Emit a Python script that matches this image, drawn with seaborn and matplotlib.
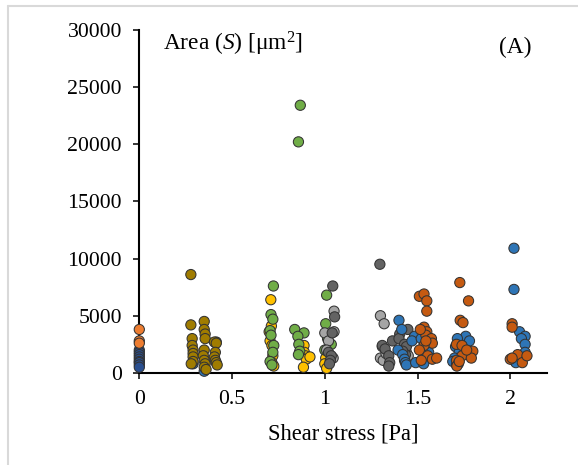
import numpy as np
import pandas as pd
import seaborn as sns
import matplotlib.pyplot as plt
from matplotlib.lines import Line2D

# Values (shear stress in Pa, area in um^2).
# Each series is one marker colour; they are drawn in this order (later on top).
navy_x = [0.0, 0.0, 0.0, 0.0, 0.0, 0.0, 0.0, 0.0, 0.0]
navy_y = [2000, 1800, 1600, 1400, 1200, 1000, 900, 700, 500]

orange_x = [0.0, 0.0, 0.0]
orange_y = [3800, 2800, 2600]

blue_low_x = [0.29, 0.35, 0.415]
blue_low_y = [800, 150, 2700]

olive_x = [0.278, 0.278, 0.285, 0.285, 0.29, 0.29, 0.29, 0.29, 0.28,
           0.35, 0.35, 0.355, 0.355, 0.35, 0.345, 0.35, 0.355, 0.35, 0.36,
           0.405, 0.415, 0.41, 0.405, 0.41, 0.415, 0.42]
olive_y = [8600, 4200, 3000, 2400, 2000, 1700, 1400, 1000, 800,
           4500, 3800, 3400, 3000, 2000, 1500, 1100, 800, 500, 300,
           2700, 2600, 1800, 1400, 1100, 900, 700]

yellow_x = [0.709, 0.712, 0.7, 0.705, 0.715, 0.72, 0.715, 0.725,
            0.888, 0.89, 0.895, 0.9, 0.885, 0.92, 1.005, 1.0, 1.01]
yellow_y = [6400, 4100, 3600, 2800, 2400, 1500, 900, 600,
            2400, 1800, 1500, 1200, 500, 1400, 1300, 800, 400]

green_x = [0.723, 0.71, 0.72, 0.705, 0.71, 0.725, 0.72, 0.705, 0.715,
           0.868, 0.858, 0.838, 0.888, 0.855, 0.86, 0.865, 0.858,
           1.01, 1.005, 1.015, 1.035, 1.0]
green_y = [7600, 5100, 4700, 3700, 3300, 2400, 1800, 1000, 700,
           23400, 20200, 3800, 3500, 3200, 2500, 1900, 1600,
           6800, 4300, 3000, 2500, 2000]

lightgray_x = [1.05, 1.0, 1.05, 1.02, 1.01, 1.045,
               1.30, 1.32, 1.31, 1.30, 1.315, 1.33, 1.44, 1.45]
lightgray_y = [5400, 3500, 3600, 2800, 2000, 1300,
               5000, 4300, 2300, 1300, 1100, 1700, 1800, 1500]

darkgray_x = [1.043, 1.053, 1.04, 1.02, 1.035, 1.03, 1.025,
              1.297, 1.31, 1.325, 1.345, 1.35, 1.345, 1.365, 1.404, 1.40,
              1.43, 1.448, 1.44, 1.435, 1.43, 1.42]
darkgray_y = [7600, 4900, 3500, 1800, 1500, 1100, 800,
              9500, 2400, 2100, 1500, 900, 600, 2800, 3400, 3000,
              2500, 3800, 2300, 1600, 1100, 1900]

blue_x = [1.40, 1.415, 1.484, 1.47, 1.395, 1.42, 1.43, 1.435, 1.44,
          1.49, 1.533, 1.56, 1.54, 1.535, 1.52,
          1.76, 1.715, 1.78, 1.705, 1.725, 1.70, 1.69, 1.71,
          2.02, 2.02, 2.05, 2.08, 2.06, 2.08, 2.08, 2.02, 2.03]
blue_y = [4600, 3800, 3200, 2800, 2000, 1600, 1200, 900, 700,
          900, 800, 1800, 2600, 1500, 3000,
          3200, 3000, 2800, 2300, 1800, 1300, 1000, 700,
          10900, 7300, 3600, 3200, 3000, 2500, 1800, 1100, 900]

brown_x = [1.51, 1.535, 1.55, 1.55, 1.535, 1.55, 1.545, 1.575, 1.58,
           1.535, 1.51, 1.555, 1.58, 1.603, 1.52, 1.515, 1.545,
           1.728, 1.775, 1.73, 1.745, 1.71, 1.74, 1.798, 1.74, 1.79,
           1.71, 1.72, 1.712, 1.765, 1.725,
           2.01, 2.01, 2.04, 2.0, 2.01, 2.065, 2.09]
brown_y = [6700, 6900, 6300, 5400, 4000, 3600, 3300, 3000, 2600,
           2400, 2000, 1500, 1200, 1300, 1100, 3800, 2800,
           7900, 6300, 4600, 4400, 2500, 2400, 1900, 1500, 1300,
           1100, 800, 600, 2000, 1000,
           4300, 4000, 1600, 1200, 1300, 900, 1500]

series = [
    ("navy", navy_x, navy_y, "#2a4f8f"),
    ("orange", orange_x, orange_y, "#ed7d31"),
    ("blue_low", blue_low_x, blue_low_y, "#2e75b6"),
    ("olive", olive_x, olive_y, "#a07c00"),
    ("yellow", yellow_x, yellow_y, "#ffc000"),
    ("green", green_x, green_y, "#70ad47"),
    ("lightgray", lightgray_x, lightgray_y, "#a5a5a5"),
    ("darkgray", darkgray_x, darkgray_y, "#636363"),
    ("blue", blue_x, blue_y, "#2e75b6"),
    ("brown", brown_x, brown_y, "#c55a11"),
]

df = pd.concat([pd.DataFrame({"stress": xs, "area": ys, "group": name})
                for name, xs, ys, _ in series], ignore_index=True)
palette = {name: c for name, _, _, c in series}

sns.set_theme(style="ticks")
plt.rcParams["font.family"] = ["Liberation Serif", "DejaVu Serif"]
plt.rcParams["mathtext.fontset"] = "custom"
plt.rcParams["mathtext.rm"] = "Liberation Serif"
plt.rcParams["mathtext.it"] = "Liberation Serif:italic"

fig = plt.figure(figsize=(5.78, 4.65), dpi=100)
ax = fig.add_axes([0.241, 0.198, 0.706, 0.738])

sns.scatterplot(data=df, x="stress", y="area", hue="group", palette=palette,
                s=54, edgecolor="#333333", linewidth=0.75, legend=False,
                clip_on=False, zorder=3, ax=ax)

ax.set_xlim(0, 2.2)
ax.set_ylim(0, 30000)
ax.set_xticks([0, 0.5, 1, 1.5, 2])
ax.set_xticklabels(["0", "0.5", "1", "1.5", "2"])
ax.set_yticks(range(0, 30001, 5000))
ax.tick_params(axis="both", labelsize=15.7, length=4.5, width=1.1,
               direction="out", color="black", labelcolor="black", pad=8)
for side in ["top", "right"]:
    ax.spines[side].set_visible(False)
for side in ["left", "bottom"]:
    ax.spines[side].set_linewidth(1.5)
    ax.spines[side].set_color("black")

ax.set_xlabel("Shear stress [Pa]", fontsize=16.3, labelpad=10, color="black")
ax.set_ylabel("")
ax.text(0.058, 0.959, r"Area ($S$) [μm$^2$]", transform=ax.transAxes,
        fontsize=16.8, va="center", ha="left", color="black")
ax.text(0.96, 0.947, "(A)", transform=ax.transAxes,
        fontsize=16.8, va="center", ha="right", color="black")

# light frame around the figure (top and left edges only are visible)
fig.add_artist(Line2D([7.5 / 578, 1.0], [1 - 6.5 / 465] * 2,
                      transform=fig.transFigure, color="#d9d9d9", lw=1.5))
fig.add_artist(Line2D([7.5 / 578] * 2, [0.0, 1 - 6.5 / 465],
                      transform=fig.transFigure, color="#d9d9d9", lw=1.5))

fig.savefig("out.png", dpi=100)
